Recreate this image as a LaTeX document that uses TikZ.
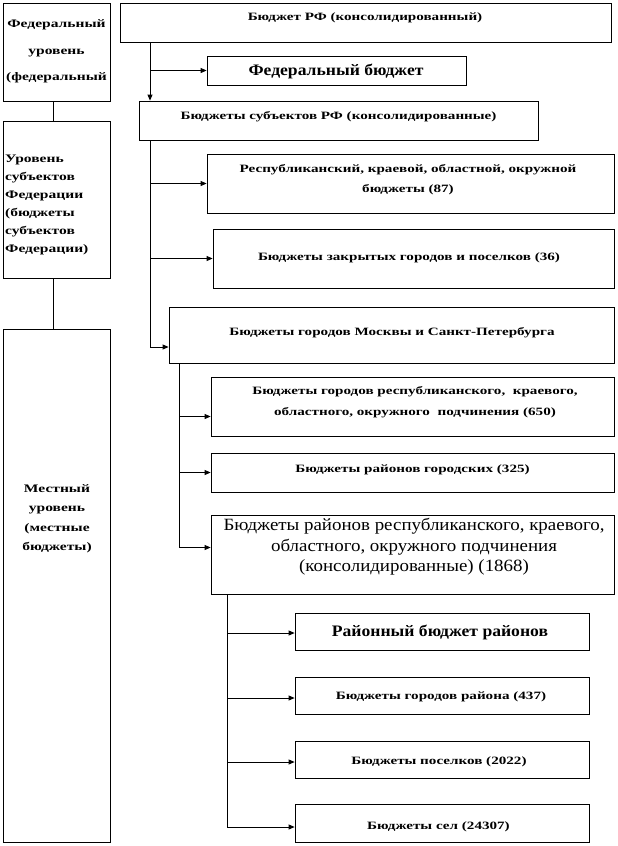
\documentclass[tikz,border=0pt]{standalone}
\usepackage{fontspec}
\setmainfont{Liberation Serif}
\newfontfamily\smf[FakeStretch=1.35]{Liberation Serif}
\newfontfamily\bgf[FakeStretch=1.1]{Liberation Serif}
\usetikzlibrary{arrows.meta,calc}
\begin{document}
\begin{tikzpicture}[x=1pt,y=-1pt,
  box/.style={draw, line width=0.8pt, inner sep=0pt, rectangle},
  txt/.style={font=\smf\bfseries\fontsize{11.2}{18}\selectfont, align=center, inner sep=0pt},
  bigb/.style={font=\bgf\bfseries\fontsize{16}{20}\selectfont, align=center, inner sep=0pt},
  bigr/.style={font=\bgf\fontsize{17.2}{20.5}\selectfont, align=center, inner sep=0pt},
  ln/.style={line width=0.8pt},
  arr/.style={line width=0.8pt, -{Triangle[length=6pt,width=5pt]}}]
\useasboundingbox (0,0) rectangle (618,846);
% left column
\node[box, minimum width=107pt, minimum height=98pt] (L1) at (56.5,52) {};
\node[box, minimum width=107pt, minimum height=157pt] (L2) at (56.5,199.5) {};
\node[box, minimum width=107pt, minimum height=513pt] (L3) at (56.5,585.5) {};
\node[txt, font=\smf\bfseries\fontsize{11.5}{26.5}\selectfont] (tL1) at (56.5,51.5) {Федеральный\\уровень\\(федеральный};
\node[txt, font=\smf\bfseries\fontsize{11.5}{18}\selectfont, align=left, anchor=west] (tL2) at (5,205) {Уровень\\субъектов\\Федерации\\(бюджеты\\субъектов\\Федерации)};
\node[txt, font=\smf\bfseries\fontsize{11.5}{19.5}\selectfont] (tL3) at (57,519) {Местный\\уровень\\(местные\\бюджеты)};
\draw[ln] ($(L1.south)+(-3,0)$) -- ($(L2.north)+(-3,0)$);
\draw[ln] ($(L2.south)+(-3,0)$) -- ($(L3.north)+(-3,0)$);
% right column boxes
\node[box, minimum width=491pt, minimum height=39pt] (top) at (365.5,22.5) {};
\node[box, minimum width=259pt, minimum height=29pt] (fed) at (336.5,70.5) {};
\node[box, minimum width=399pt, minimum height=39pt] (sub) at (338.5,120.5) {};
\node[box, minimum width=407pt, minimum height=59pt] (resp) at (410.5,183.5) {};
\node[box, minimum width=401pt, minimum height=59pt] (zakr) at (413.5,258.5) {};
\node[box, minimum width=445pt, minimum height=56pt] (mos) at (391.5,335) {};
\node[box, minimum width=403pt, minimum height=59pt] (b650) at (412.5,406.5) {};
\node[box, minimum width=403pt, minimum height=39pt] (b325) at (412.5,472.5) {};
\node[box, minimum width=403pt, minimum height=79pt] (b1868) at (412.5,554.5) {};
\node[box, minimum width=294pt, minimum height=37pt] (r1) at (442,631.5) {};
\node[box, minimum width=294pt, minimum height=37pt] (r2) at (442,695.5) {};
\node[box, minimum width=294pt, minimum height=37pt] (r3) at (442,759.5) {};
\node[box, minimum width=294pt, minimum height=38pt] (r4) at (442,823) {};
% texts
\node[txt] (ttop) at (365,18) {Бюджет РФ (консолидированный)};
\node[bigb] (tfed) at (336,71) {Федеральный бюджет};
\node[txt] (tsub) at (338.5,117) {Бюджеты субъектов РФ (консолидированные)};
\node[txt, font=\smf\bfseries\fontsize{11.2}{20}\selectfont] (tresp) at (408,180) {Республиканский, краевой, областной, окружной\\бюджеты (87)};
\node[txt] (tzakr) at (409,258) {Бюджеты закрытых городов и поселков (36)};
\node[txt] (tmos) at (392,333) {Бюджеты городов Москвы и Санкт-Петербурга};
\node[txt, font=\smf\bfseries\fontsize{11.2}{21}\selectfont] (t650) at (415,402) {Бюджеты городов республиканского, \ краевого,\\областного, окружного \ подчинения (650)};
\node[txt] (t325) at (412.5,470) {Бюджеты районов городских (325)};
\node[bigr] (t1868) at (414,547) {Бюджеты районов республиканского, краевого,\\областного, окружного подчинения\\(консолидированные) (1868)};
\node[bigb] (tr1) at (440,632) {Районный бюджет районов};
\node[txt] (tr2) at (441,697) {Бюджеты городов района (437)};
\node[txt] (tr3) at (439,762) {Бюджеты поселков (2022)};
\node[txt] (tr4) at (438.5,827) {Бюджеты сел (24307)};
% spines
\coordinate (s1) at (150,0);
\coordinate (s2) at (179,0);
\coordinate (s3) at (227,0);
\draw[arr] (top.south -| s1) -- (sub.north -| s1);
\draw[arr] (fed.west -| s1) -- (fed.west);
\draw[arr] (sub.south -| s1) |- ($(mos.west)+(0,12)$);
\draw[arr] (resp.west -| s1) -- (resp.west);
\draw[arr] (zakr.west -| s1) -- (zakr.west);
\draw[ln] (mos.south -| s2) -- ($(b1868.west -| s2)+(0,-7)$);
\draw[arr] ($(b650.west -| s2)+(0,10)$) -- ($(b650.west)+(0,10)$);
\draw[arr] (b325.west -| s2) -- (b325.west);
\draw[arr] ($(b1868.west -| s2)+(0,-7)$) -- ($(b1868.west)+(0,-7)$);
\draw[ln] (b1868.south -| s3) -- ($(r4.west -| s3)+(0,4)$);
\draw[arr] ($(r1.west -| s3)+(0,1.5)$) -- ($(r1.west)+(0,1.5)$);
\draw[arr] ($(r2.west -| s3)+(0,2.5)$) -- ($(r2.west)+(0,2.5)$);
\draw[arr] ($(r3.west -| s3)+(0,2.5)$) -- ($(r3.west)+(0,2.5)$);
\draw[arr] ($(r4.west -| s3)+(0,4)$) -- ($(r4.west)+(0,4)$);
\end{tikzpicture}
\end{document}
